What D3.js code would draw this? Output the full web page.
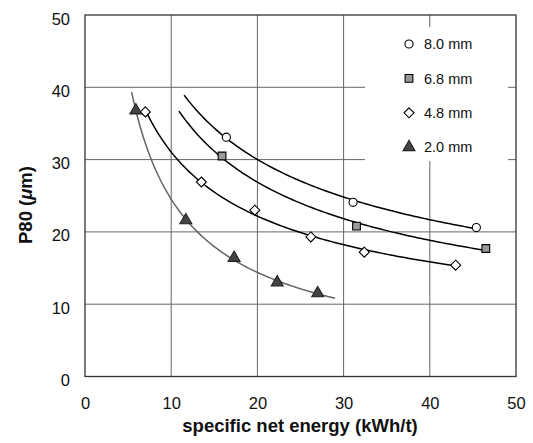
<!DOCTYPE html>
<html><head><meta charset="utf-8">
<script src="https://cdn.jsdelivr.net/npm/d3@7"></script>
<style>body{margin:0;background:#fff}svg{display:block;font-family:"Liberation Sans",Arial,sans-serif}</style>
</head><body>
<svg id="c" width="533" height="443"></svg>
<script>
const seriesNames = ["8.0 mm", "6.8 mm", "4.8 mm", "2.0 mm"];
const energy80 = [16.4, 31.1, 45.4];
const p80_80 = [33.1, 24.1, 20.6];
const energy68 = [15.9, 31.5, 46.5];
const p80_68 = [30.5, 20.8, 17.7];
const energy48 = [7.0, 13.5, 19.7, 26.2, 32.4, 43.0];
const p80_48 = [36.6, 26.9, 23.0, 19.3, 17.2, 15.4];
const energy20 = [5.9, 11.7, 17.3, 22.3, 27.0];
const p80_20 = [36.8, 21.6, 16.4, 13.0, 11.5];
const trendStart = [11.5, 10.9, 7.0, 5.4];
const trendEnd = [45.4, 46.5, 43.0, 29.0];
const xTicks = [0, 10, 20, 30, 40, 50];
const yTicks = [0, 10, 20, 30, 40, 50];

const series = [
  {name: seriesNames[0], xs: energy80, ys: p80_80, x0: trendStart[0], x1: trendEnd[0], sym: "circle", fill: "#fff", line: "#000"},
  {name: seriesNames[1], xs: energy68, ys: p80_68, x0: trendStart[1], x1: trendEnd[1], sym: "square", fill: "#999", line: "#000"},
  {name: seriesNames[2], xs: energy48, ys: p80_48, x0: trendStart[2], x1: trendEnd[2], sym: "diamond", fill: "#fff", line: "#000"},
  {name: seriesNames[3], xs: energy20, ys: p80_20, x0: trendStart[3], x1: trendEnd[3], sym: "triangle", fill: "#444", line: "#666"}
];

const svg = d3.select("#c");
const L = 85, R = 516, T = 15, B = 376.5;
const x = d3.scaleLinear().domain([0, 50]).range([L, R]);
const y = d3.scaleLinear().domain([0, 50]).range([B, T]);

// grid
const g = svg.append("g");
g.selectAll(".vx").data(xTicks.slice(1, -1)).join("line")
  .attr("x1", d => x(d)).attr("x2", d => x(d)).attr("y1", T).attr("y2", B)
  .attr("stroke", "#666").attr("stroke-width", 1);
g.selectAll(".hy").data(yTicks.slice(1, -1)).join("line")
  .attr("x1", L).attr("x2", R).attr("y1", d => y(d)).attr("y2", d => y(d))
  .attr("stroke", "#666").attr("stroke-width", 1);

// legend background
svg.append("rect").attr("x", 365).attr("y", 27).attr("width", 143).attr("height", 134).attr("fill", "#fff");

// frame
svg.append("rect").attr("x", L).attr("y", T).attr("width", R - L).attr("height", B - T)
  .attr("fill", "none").attr("stroke", "#333").attr("stroke-width", 1.3);

// axes labels via d3 axes
const xa = svg.append("g").attr("transform", `translate(0,${B})`)
  .call(d3.axisBottom(x).tickValues(xTicks).tickSize(0).tickPadding(21));
const ya = svg.append("g").attr("transform", `translate(${L},0)`)
  .call(d3.axisLeft(y).tickValues(yTicks).tickSize(0).tickPadding(15));
[xa, ya].forEach(a => {
  a.select(".domain").remove();
  a.selectAll("text").attr("font-size", 16.5).attr("fill", "#111")
    .attr("font-family", '"Liberation Sans",Arial,sans-serif');
});
ya.selectAll("text").attr("dy", "0.55em");

// trend lines (power-law fit in log-log space)
function powerFit(xs, ys) {
  const lx = xs.map(Math.log), ly = ys.map(Math.log);
  const mx = d3.mean(lx), my = d3.mean(ly);
  let num = 0, den = 0;
  lx.forEach((v, i) => { num += (v - mx) * (ly[i] - my); den += (v - mx) ** 2; });
  const b = num / den, a = Math.exp(my - b * mx);
  return t => a * Math.pow(t, b);
}
const line = d3.line().x(d => x(d[0])).y(d => y(d[1]));
series.forEach(s => {
  const f = powerFit(s.xs, s.ys);
  const pts = d3.range(0, 101).map(i => { const t = s.x0 + (s.x1 - s.x0) * i / 100; return [t, f(t)]; });
  svg.append("path").attr("d", line(pts)).attr("fill", "none")
    .attr("stroke", s.line).attr("stroke-width", 1.5);
});

// markers
const diamondPath = "M0,-5L5,0L0,5L-5,0Z";
const symMap = {circle: d3.symbolCircle, square: d3.symbolSquare, triangle: d3.symbolTriangle};
const symSize = {circle: 52, square: 60, triangle: 62};
function marker(sel, s) {
  const d = s.sym === "diamond" ? diamondPath : d3.symbol().type(symMap[s.sym]).size(symSize[s.sym])();
  sel.attr("d", d)
    .attr("fill", s.fill).attr("stroke", s.sym === "triangle" ? "#222" : "#000").attr("stroke-width", 1.1);
}
series.forEach(s => {
  s.xs.forEach((xv, i) => {
    svg.append("path").attr("transform", `translate(${x(xv)},${y(s.ys[i])})`).call(marker, s);
  });
});

// legend
series.forEach((s, i) => {
  const ly = 44 + i * 34.4;
  svg.append("path").attr("transform", `translate(409,${ly})`).call(marker, s);
  svg.append("text").attr("x", 424).attr("y", ly).attr("dy", "0.36em")
    .attr("font-size", 14.5).attr("fill", "#111").text(s.name);
});

// axis titles
svg.append("text").attr("x", 300).attr("y", 432).attr("text-anchor", "middle")
  .attr("font-size", 18.5).attr("font-weight", "bold").attr("fill", "#111")
  .text("specific net energy (kWh/t)");
const yt = svg.append("text").attr("transform", "translate(32,205) rotate(-90)").attr("text-anchor", "middle")
  .attr("font-size", 18.5).attr("font-weight", "bold").attr("fill", "#111");
yt.append("tspan").text("P80 (");
yt.append("tspan").attr("font-style", "italic").text("μ");
yt.append("tspan").text("m)");
</script>
</body></html>
